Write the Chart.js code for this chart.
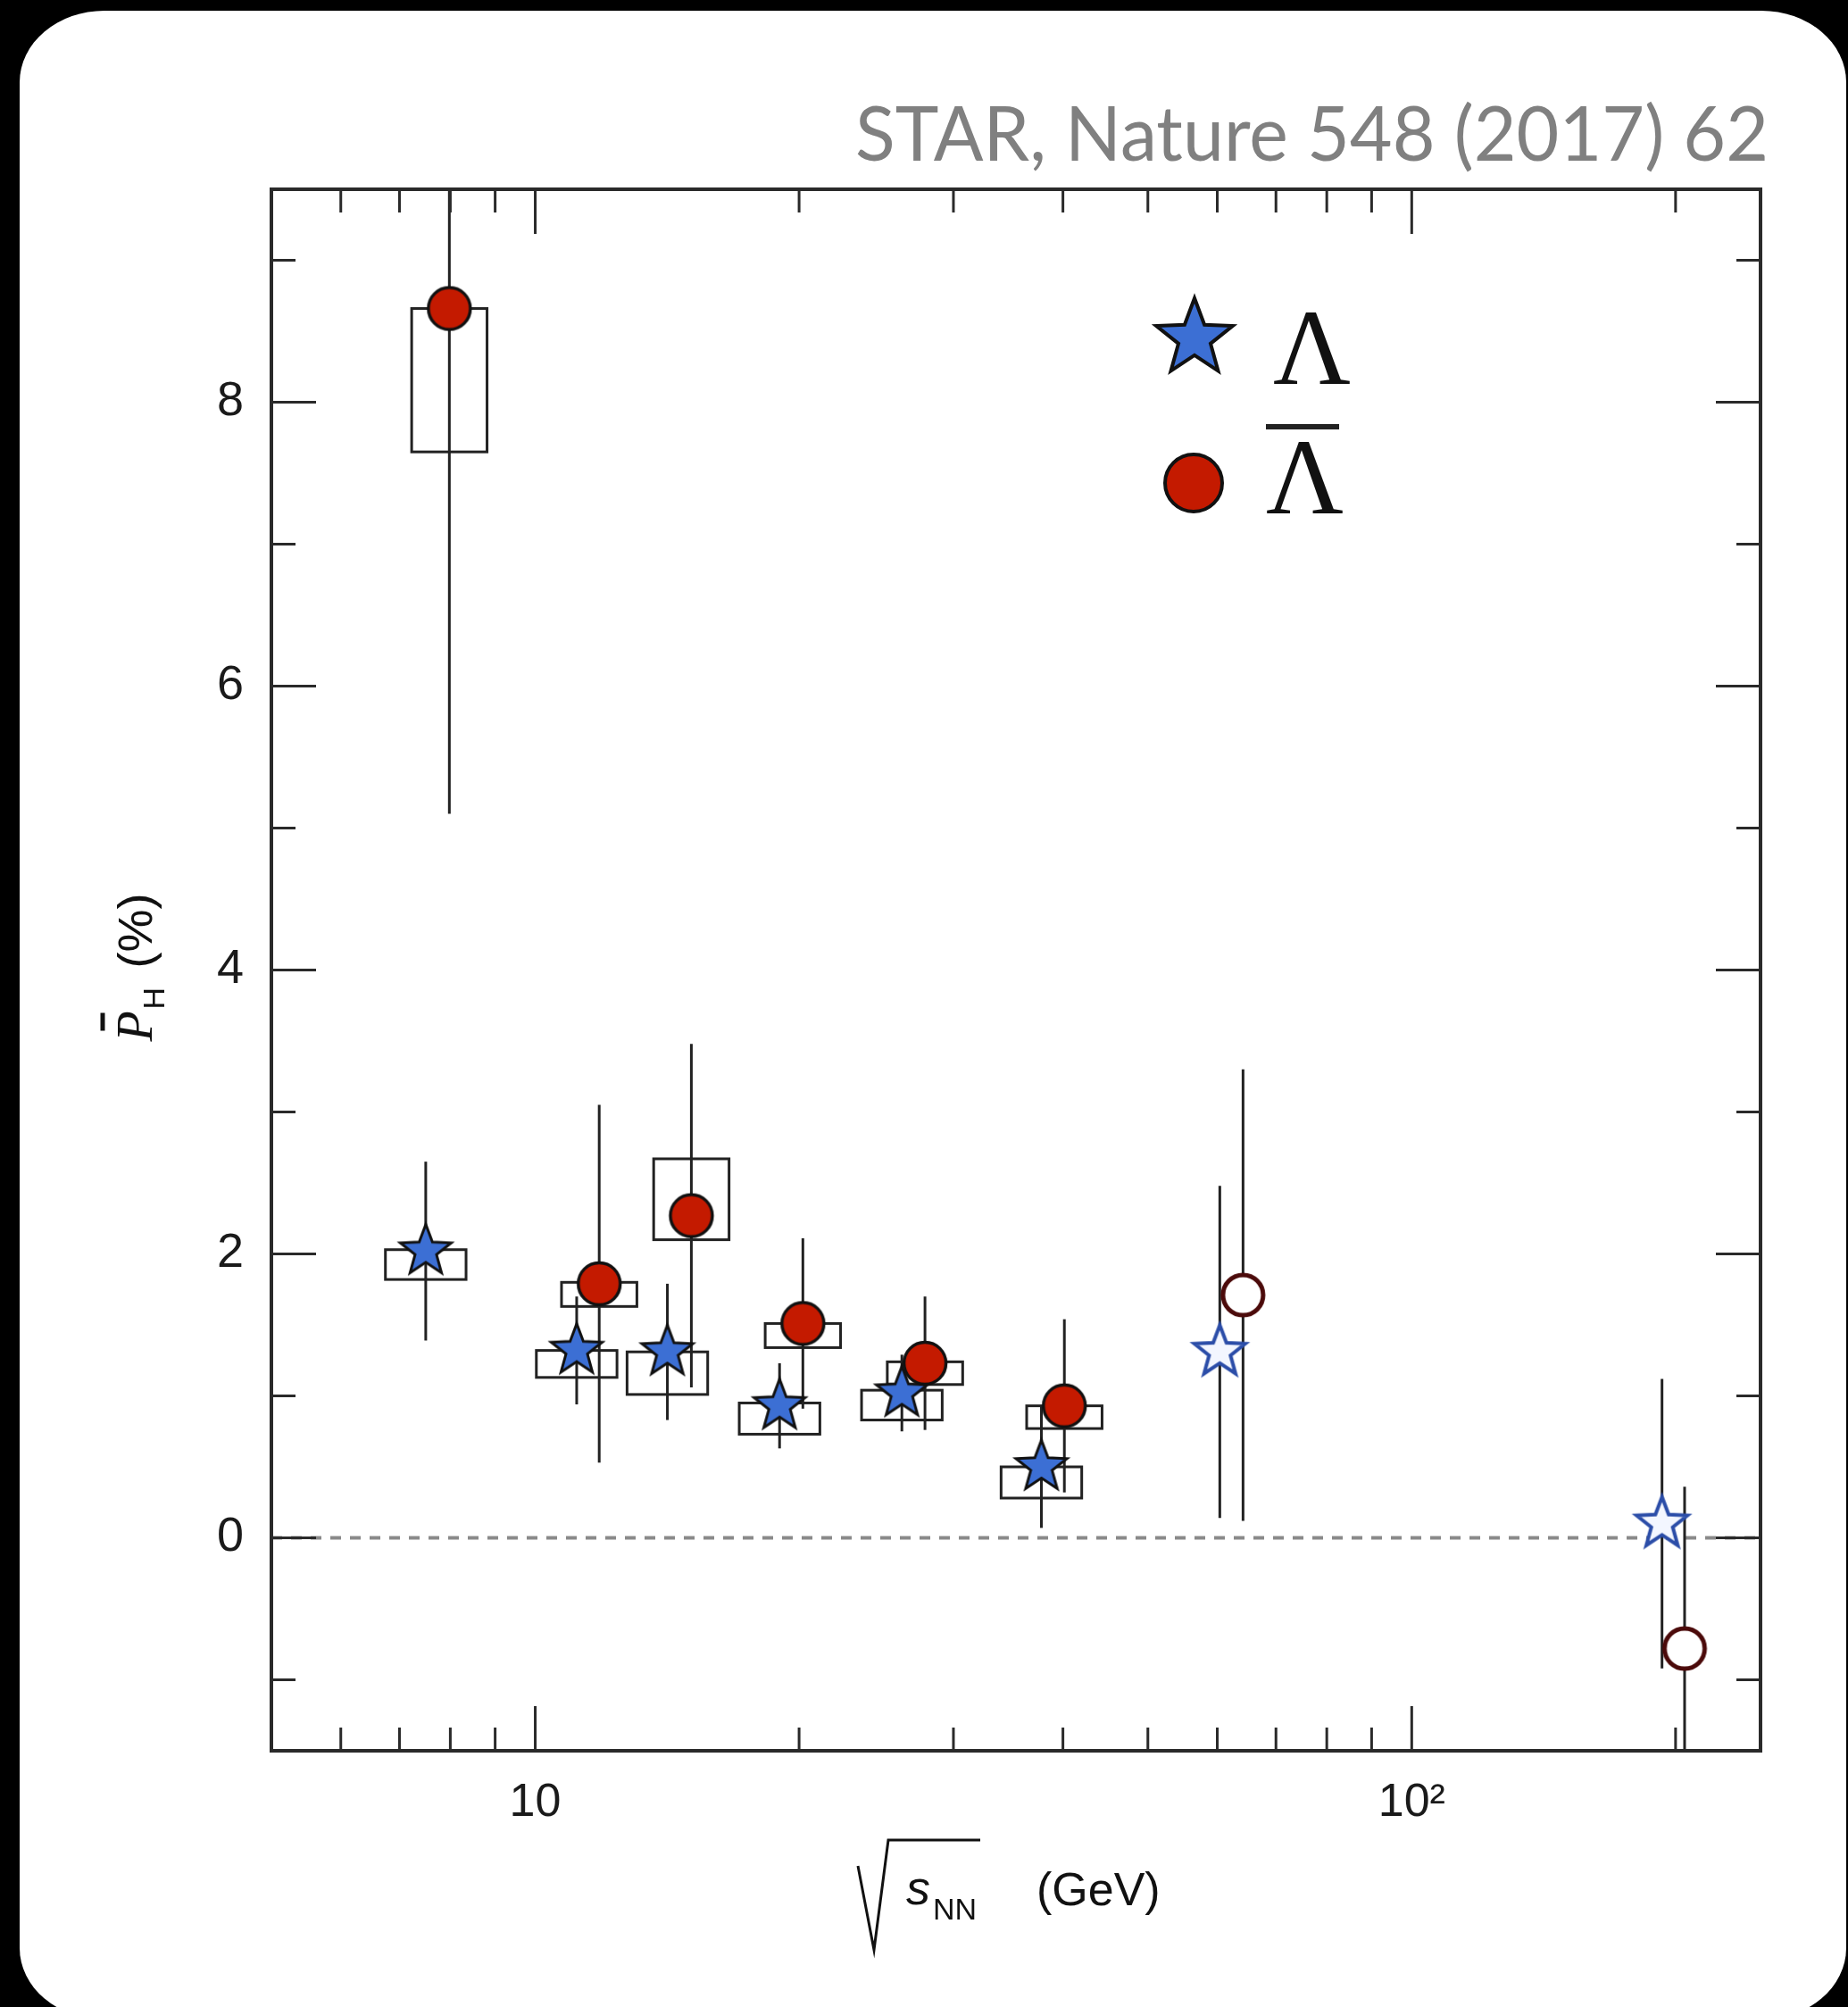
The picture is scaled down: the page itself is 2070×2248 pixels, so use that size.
<!DOCTYPE html>
<html>
<head>
<meta charset="utf-8">
<script src="https://cdn.jsdelivr.net/npm/chart.js@4.4.0/dist/chart.umd.min.js"></script>
<style>
    html, body { margin: 0; padding: 0; background: #000; }
    #card { position: absolute; left: 22px; top: 12px; width: 2046px; height: 2250px; background: #fff; border-radius: 95px / 80px; }
    #wrap { position: absolute; left: 0; top: 0; width: 2070px; height: 2248px; }
</style>
</head>
<body>
<div id="card"></div>
<div id="wrap"><canvas id="polarizationchart"></canvas></div>
<script>
// Lambda (stars). closed: BES points, open: 62.4 and 200 GeV
const lam_energy = [7.5, 11.15, 14.15, 19.0, 26.2, 37.8];
const lam_pol = [2.02, 1.32, 1.31, 0.93, 1.02, 0.50];
const lam_stat = [0.63, 0.38, 0.48, 0.30, 0.27, 0.43];
const lam_sys_lo = [1.82, 1.13, 1.01, 0.73, 0.83, 0.28];
const lam_sys_hi = [2.03, 1.32, 1.31, 0.95, 1.04, 0.50];
const lam_open_energy = [60.4, 193];
const lam_open_pol = [1.31, 0.10];
const lam_open_stat = [1.17, 1.02];

// anti-Lambda (circles)
const alam_energy = [7.98, 11.83, 15.07, 20.2, 27.84, 40.15];
const alam_pol = [8.66, 1.79, 2.27, 1.51, 1.23, 0.93];
const alam_stat = [3.56, 1.26, 1.21, 0.60, 0.47, 0.61];
const alam_sys_lo = [7.65, 1.63, 2.10, 1.34, 1.08, 0.77];
const alam_sys_hi = [8.66, 1.80, 2.67, 1.51, 1.24, 0.93];
const alam_open_energy = [64.2, 204.8];
const alam_open_pol = [1.71, -0.78];
const alam_open_stat = [1.59, 1.14];

const x_major_ticks = [10, 100];
const x_minor_ticks = [6, 7, 8, 9, 20, 30, 40, 50, 60, 70, 80, 90, 200];
const x_tick_labels = ['10', '10\u00B2'];
const y_major_ticks = [0, 2, 4, 6, 8];
const y_minor_ticks = [-1, 1, 3, 5, 7, 9];

const lam_box_halfwidth = 0.046;   // in decades
const alam_box_halfwidth = 0.043;

function starpath(ctx, cx, cy, r) {
    ctx.beginPath();
    for (let i = 0; i < 10; i++) {
        let a = -Math.PI / 2 + i * Math.PI / 5;
        let rr = (i % 2 === 0) ? r : r * 0.42;
        ctx.lineTo(cx + rr * Math.cos(a), cy + rr * Math.sin(a));
    }
    ctx.closePath();
}

function makestar(r, fill, stroke, lw) {
    const c = document.createElement('canvas');
    const s = Math.ceil(2 * r + 2 * lw + 6);
    c.width = s;
    c.height = s;
    const ctx = c.getContext('2d');
    starpath(ctx, s / 2, s / 2, r);
    ctx.fillStyle = fill;
    ctx.fill();
    ctx.lineJoin = 'miter';
    ctx.lineWidth = lw;
    ctx.strokeStyle = stroke;
    ctx.stroke();
    return c;
}

function makecircle(r, fill, stroke, lw) {
    const c = document.createElement('canvas');
    const s = Math.ceil(2 * r + 2 * lw + 6);
    c.width = s;
    c.height = s;
    const ctx = c.getContext('2d');
    ctx.beginPath();
    ctx.arc(s / 2, s / 2, r, 0, Math.PI * 2);
    ctx.fillStyle = fill;
    ctx.fill();
    ctx.lineWidth = lw;
    ctx.strokeStyle = stroke;
    ctx.stroke();
    return c;
}

const bluestar = makestar(30, '#3c6fd4', '#111', 3);
const openstar = makestar(30, '#f3f6ff', '#2b4da8', 4);
const redcircle = makecircle(23.5, '#c41a00', '#111', 3.5);
const opencircle = makecircle(22.5, '#ffffff', '#4b0a0a', 5);
const legendstar = makestar(45, '#3c6fd4', '#111', 4);
const legendcircle = makecircle(32, '#c41a00', '#111', 4);

function points(xs, ys) {
    return xs.map((x, i) => ({ x: x, y: ys[i] }));
}

function drawboxes(ctx, xs, lo, hi, hw, sx, sy) {
    ctx.lineWidth = 3;
    ctx.strokeStyle = '#222';
    xs.forEach((x, i) => {
        let x1 = sx.getPixelForValue(x * Math.pow(10, -hw));
        let x2 = sx.getPixelForValue(x * Math.pow(10, hw));
        let y1 = sy.getPixelForValue(hi[i]);
        let y2 = sy.getPixelForValue(lo[i]);
        ctx.strokeRect(x1, y1, x2 - x1, y2 - y1);
    });
}

function drawbars(ctx, xs, ys, err, sx, sy) {
    ctx.lineWidth = 3;
    ctx.strokeStyle = '#222';
    xs.forEach((x, i) => {
        let px = sx.getPixelForValue(x);
        ctx.beginPath();
        ctx.moveTo(px, sy.getPixelForValue(ys[i] + err[i]));
        ctx.lineTo(px, sy.getPixelForValue(ys[i] - err[i]));
        ctx.stroke();
    });
}

const errorbarplugin = {
    id: 'errorbars',
    beforeDatasetsDraw(chart) {
        const ctx = chart.ctx;
        const sx = chart.scales.x;
        const sy = chart.scales.y;
        const area = chart.chartArea;
        ctx.save();
        ctx.beginPath();
        ctx.rect(area.left, area.top, area.right - area.left, area.bottom - area.top);
        ctx.clip();

        let y0 = sy.getPixelForValue(0);
        ctx.setLineDash([12, 10]);
        ctx.strokeStyle = '#8a8a8a';
        ctx.lineWidth = 4;
        ctx.beginPath();
        ctx.moveTo(area.left, y0);
        ctx.lineTo(area.right, y0);
        ctx.stroke();
        ctx.setLineDash([]);

        drawboxes(ctx, lam_energy, lam_sys_lo, lam_sys_hi, lam_box_halfwidth, sx, sy);
        drawboxes(ctx, alam_energy, alam_sys_lo, alam_sys_hi, alam_box_halfwidth, sx, sy);
        drawbars(ctx, lam_energy, lam_pol, lam_stat, sx, sy);
        drawbars(ctx, lam_open_energy, lam_open_pol, lam_open_stat, sx, sy);
        drawbars(ctx, alam_energy, alam_pol, alam_stat, sx, sy);
        drawbars(ctx, alam_open_energy, alam_open_pol, alam_open_stat, sx, sy);
        ctx.restore();
    }
};

const frameplugin = {
    id: 'frame',
    afterDatasetsDraw(chart) {
        const ctx = chart.ctx;
        const sx = chart.scales.x;
        const sy = chart.scales.y;
        const a = chart.chartArea;
        ctx.save();
        ctx.strokeStyle = '#2a2a2a';
        ctx.lineWidth = 3;
        ctx.beginPath();
        const xtick = (v, len) => {
            let px = sx.getPixelForValue(v);
            ctx.moveTo(px, a.bottom); ctx.lineTo(px, a.bottom - len);
            ctx.moveTo(px, a.top); ctx.lineTo(px, a.top + len);
        };
        const ytick = (v, len) => {
            let py = sy.getPixelForValue(v);
            ctx.moveTo(a.left, py); ctx.lineTo(a.left + len, py);
            ctx.moveTo(a.right, py); ctx.lineTo(a.right - len, py);
        };
        x_major_ticks.forEach(v => xtick(v, 50));
        x_minor_ticks.forEach(v => xtick(v, 26));
        y_major_ticks.forEach(v => ytick(v, 50));
        y_minor_ticks.forEach(v => ytick(v, 27));
        ctx.stroke();
        ctx.lineWidth = 4;
        ctx.strokeRect(a.left, a.top, a.right - a.left, a.bottom - a.top);
        ctx.restore();
    }
};

const textplugin = {
    id: 'texts',
    afterDraw(chart) {
        const ctx = chart.ctx;
        const a = chart.chartArea;
        ctx.save();

        // reference line top right
        let title = 'STAR, Nature 548 (2017) 62';
        ctx.font = '86px Lato';
        ctx.fillStyle = '#808080';
        ctx.textBaseline = 'alphabetic';
        ctx.textAlign = 'left';
        let tw = ctx.measureText(title).width;
        let target = 1023;
        ctx.save();
        ctx.translate(1981 - target, 180);
        ctx.scale(target / tw, 1);
        ctx.fillText(title, 0, 0);
        ctx.restore();

        // legend
        ctx.drawImage(legendstar, 1338 - legendstar.width / 2, 379 - legendstar.height / 2);
        ctx.drawImage(legendcircle, 1337 - legendcircle.width / 2, 541 - legendcircle.height / 2);
        ctx.fillStyle = '#111';
        ctx.font = '120px "Liberation Serif"';
        ctx.fillText('\u039B', 1426, 430);
        ctx.fillText('\u039B', 1418, 575);
        ctx.lineWidth = 6;
        ctx.strokeStyle = '#222';
        ctx.beginPath();
        ctx.moveTo(1418, 478);
        ctx.lineTo(1500, 478);
        ctx.stroke();

        // x title: sqrt(s_NN) (GeV)
        let cx = (a.left + a.right) / 2;
        let by = a.bottom;
        ctx.lineWidth = 3;
        ctx.strokeStyle = '#111';
        ctx.beginPath();
        ctx.moveTo(cx - 177, by + 129);
        ctx.lineTo(cx - 159, by + 223);
        ctx.lineTo(cx - 143, by + 100);
        ctx.lineTo(cx - 40, by + 100);
        ctx.stroke();
        ctx.fillStyle = '#111';
        ctx.font = 'italic 54px "Liberation Sans"';
        ctx.fillText('s', cx - 123, by + 172);
        ctx.font = '34px "Liberation Sans"';
        ctx.fillText('NN', cx - 93, by + 189);
        ctx.font = '52px "Liberation Sans"';
        ctx.fillText('(GeV)', cx + 23, by + 173);

        // y title: P-bar_H (%), rotated
        let cy = (a.top + a.bottom) / 2;
        ctx.translate(170, cy);
        ctx.rotate(-Math.PI / 2);
        ctx.font = 'italic 56px "Liberation Serif"';
        ctx.fillText('P', -80, 0);
        ctx.lineWidth = 5;
        ctx.beginPath();
        ctx.moveTo(-68, -55);
        ctx.lineTo(-48, -55);
        ctx.stroke();
        ctx.font = '34px "Liberation Sans"';
        ctx.fillText('H', -44, 14);
        ctx.font = '54px "Liberation Sans"';
        ctx.fillText('(%)', 2, 0);

        ctx.restore();
    }
};

const polarizationconfig = {
    type: 'scatter',
    data: {
        datasets: [
            { label: 'anti-Lambda', data: points(alam_energy, alam_pol), pointStyle: redcircle, pointRadius: 25 },
            { label: 'anti-Lambda open', data: points(alam_open_energy, alam_open_pol), pointStyle: opencircle, pointRadius: 25 },
            { label: 'Lambda', data: points(lam_energy, lam_pol), pointStyle: bluestar, pointRadius: 25 },
            { label: 'Lambda open', data: points(lam_open_energy, lam_open_pol), pointStyle: openstar, pointRadius: 25 }
        ]
    },
    options: {
        responsive: true,
        maintainAspectRatio: false,
        animation: false,
        layout: {
            padding: { left: 0, right: 98, top: 212, bottom: 137 }
        },
        scales: {
            x: {
                type: 'logarithmic',
                min: 5,
                max: 250,
                grid: { display: false, drawTicks: false },
                border: { display: false },
                afterFit: function (scale) { scale.height = 150; },
                afterBuildTicks: function (scale) {
                    scale.ticks = x_major_ticks.map(v => ({ value: v }));
                },
                ticks: {
                    padding: 27,
                    maxRotation: 0,
                    autoSkip: false,
                    color: '#1a1a1a',
                    font: { family: 'Liberation Sans', size: 52 },
                    callback: function (value) {
                        let idx = x_major_ticks.indexOf(value);
                        return idx >= 0 ? x_tick_labels[idx] : '';
                    }
                }
            },
            y: {
                min: -1.5,
                max: 9.5,
                grid: { display: false, drawTicks: false },
                border: { display: false },
                afterFit: function (scale) { scale.width = 304; },
                afterBuildTicks: function (scale) {
                    scale.ticks = y_major_ticks.map(v => ({ value: v }));
                },
                ticks: {
                    padding: 31,
                    color: '#1a1a1a',
                    font: { family: 'Liberation Sans', size: 54 }
                }
            }
        },
        plugins: {
            legend: { display: false },
            tooltip: { enabled: false }
        }
    },
    plugins: [errorbarplugin, frameplugin, textplugin]
};

new Chart(document.getElementById('polarizationchart'), polarizationconfig);
</script>
</body>
</html>
